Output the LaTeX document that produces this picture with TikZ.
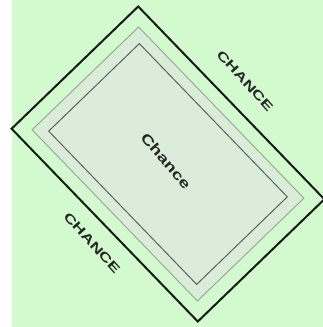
\documentclass[tikz,border=0pt]{standalone}
\usepackage{fontspec}
\setmainfont{Liberation Sans}
\usepackage{xcolor}
\usepackage{tikz}
\usetikzlibrary{positioning, calc}
\definecolor{bggreen}{HTML}{D3F9CF}
\definecolor{cardfill}{HTML}{DBEDDA}
\definecolor{rimgray}{HTML}{8FA88E}
\definecolor{inkgray}{HTML}{55665A}
\tikzset{
    cardbase/.style={rectangle, rotate=-46, inner sep=0pt},
    outercard/.style={cardbase, draw=black!90, line width=2pt, minimum width=268pt, minimum height=176pt},
    midcard/.style={cardbase, draw=rimgray, fill=cardfill, line width=0.9pt, minimum width=238pt, minimum height=148pt},
    innercard/.style={cardbase, draw=inkgray, line width=1pt, minimum width=213pt, minimum height=126pt},
    edgelabel/.style={rotate=-48, inner sep=0pt, text=black!85, font=\bfseries\fontsize{12.5}{14}\selectfont},
    centrelabel/.style={rotate=-49, inner sep=0pt, text=black!85, font=\bfseries\fontsize{14}{16}\selectfont}
}
\begin{document}
\begin{tikzpicture}[x=1pt, y=1pt]
    \useasboundingbox (0,0) rectangle (323,327);
    \fill[bggreen] (12,0) rectangle (323,327);

    \node (outer) [outercard] at (168,163) {};
    \node (middle) [midcard] at (168,163) {};
    \node (inner) [innercard] at (middle.center) {};

    \node (title) [centrelabel] at (166,166) {\scalebox{1.35}[1]{Chance}};
    \node (top) [edgelabel] at (245,246) {\scalebox{1.45}[1]{CHANCE}};
    \node (bottom) [edgelabel] at (92,84) {\scalebox{1.45}[1]{CHANCE}};
\end{tikzpicture}
\end{document}
